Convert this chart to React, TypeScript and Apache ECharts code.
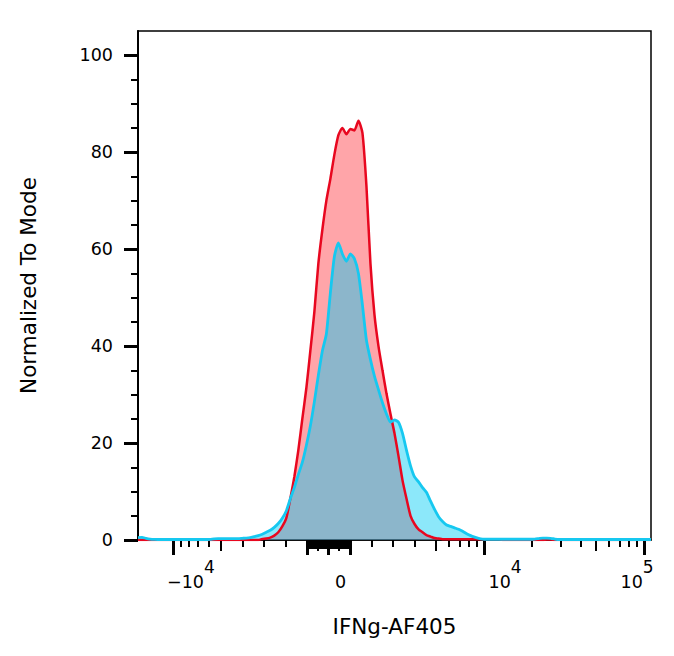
import React, { useEffect, useRef } from 'react';
import * as echarts from 'echarts';

// histogram bins: display channels 0..1024, one bin every 8 channels
const CHANNELS = Array.from({ length: 129 }, (_, i) => i * 8);

// red: control sample (Normalized To Mode)
const controlCounts = [
  0, 0, 0, 0, 0, 0, 0, 0, 0, 0, // 0-9
  0, 0, 0, 0, 0, 0, 0, 0, 0, 0, // 10-19
  0, 0, 0, 0, 0, 0, 0, 0, 0, 0, // 20-29
  0, 0.2, 0.3, 0.5, 0.9, 1.6, 2.8, 4.5, 8.5, 13, // 30-39
  18.5, 25, 31.3, 39, 47, 57, 64, 70, 74.5, 79.5, // 40-49
  83.5, 85, 83.7, 84.8, 84.5, 86.5, 84, 73, 57, 46.5, // 50-59
  40, 35, 30.2, 26, 22, 17.3, 12.3, 8.5, 5, 3.3, // 60-69
  2.2, 1.6, 1.0, 0.7, 0.4, 0.3, 0.15, 0.15, 0.15, 0.15, // 70-79
  0.15, 0.15, 0.15, 0.15, 0.15, 0.15, 0.15, 0.15, 0.15, 0.15, // 80-89
  0.15, 0, 0, 0, 0, 0, 0, 0, 0, 0, // 90-99
  0, 0, 0.1, 0.1, 0, 0, 0, 0, 0, 0, // 100-109
  0, 0, 0, 0, 0, 0, 0, 0, 0, 0, // 110-119
  0, 0, 0, 0, 0, 0, 0, 0, 0, // 120-128
];

// blue: stained sample (Normalized To Mode)
const stainedCounts = [
  0.5, 0.55, 0.35, 0.2, 0.12, 0.1, 0.1, 0.1, 0.1, 0.1, // 0-9
  0.1, 0.1, 0.1, 0.1, 0.1, 0.1, 0.1, 0.1, 0.15, 0.25, // 10-19
  0.3, 0.3, 0.3, 0.3, 0.3, 0.3, 0.35, 0.4, 0.5, 0.7, // 20-29
  0.9, 1.2, 1.6, 2.0, 2.6, 3.4, 4.5, 6, 8.5, 10.8, // 30-39
  13.5, 16, 19.5, 23.5, 28.5, 34, 39, 42.5, 51, 58.5, // 40-49
  61.3, 59, 57.5, 59, 58, 55, 48.5, 41.2, 37.2, 33.8, // 50-59
  31, 28.3, 26, 24.3, 24.8, 24.3, 22, 18.5, 15.3, 13, // 60-69
  12, 10.8, 9.8, 8, 6.3, 4.8, 3.8, 3.1, 2.8, 2.5, // 70-79
  2.2, 1.8, 1.3, 0.9, 0.6, 0.35, 0.2, 0.15, 0.15, 0.15, // 80-89
  0.15, 0.15, 0.15, 0.15, 0.15, 0.15, 0.15, 0.15, 0.15, 0.2, // 90-99
  0.3, 0.4, 0.4, 0.35, 0.2, 0.1, 0.1, 0.1, 0.1, 0.1, // 100-109
  0.1, 0.1, 0.1, 0.1, 0.1, 0.1, 0.1, 0.1, 0.1, 0.1, // 110-119
  0.1, 0.1, 0.1, 0.1, 0.1, 0.1, 0.1, 0.1, 0.1, // 120-128
];

// biexponential axis: ticks in fluorescence units
const labelTicks = [-1e4, 0, 1e4, 1e5];
const majorTicks = [-1e4, -1000, 0, 1000, 1e4, 1e5];
const mediumTicks = [-5000, -500, 500, 5000, 5e4];
const minorTicks = [
  -9000, -8000, -7000, -6000, -4000, -3000, -2000,
  2000, 3000, 4000, 6000, 7000, 8000, 9000,
  2e4, 3e4, 4e4, 6e4, 7e4, 8e4, 9e4,
];
// the linear region around zero: ticks close enough to merge into a block
const nearZeroTicks = [
  -900, -800, -700, -600, -400, -300, -200, -100,
  100, 200, 300, 400, 600, 700, 800, 900,
];

const yLabels = [0, 20, 40, 60, 80, 100];
const yMinor = [5, 10, 15, 25, 30, 35, 45, 50, 55, 65, 70, 75, 85, 90, 95];

// display scale: linear up to LIN, then log decades
const LIN = 5000;
const DECADE = 1.49;
const U_MIN = -1.774;
const U_MAX = 3.003;
const N_CH = 1024;

const toChannel = (v: number) => {
  const a = Math.abs(v);
  const u = a <= LIN ? a / LIN : 1 + DECADE * Math.log10(a / LIN);
  return ((Math.sign(v) * u - U_MIN) / (U_MAX - U_MIN)) * N_CH;
};

const FONT = 'DejaVu Sans';

const labelText = (v: number) => {
  if (v === 0) return '{g24|}{b|0}';
  const exp = Math.round(Math.log10(Math.abs(v)));
  if (v < 0) return `{g36|}{b|−10}{s|${exp}}`;
  if (exp === 5) return `{b|10}{s|${exp}}{g14|}`;
  return `{g42|}{b|10}{s|${exp}}`;
};

export default function App() {
  const ref = useRef<HTMLDivElement>(null);

  useEffect(() => {
    document.body.style.margin = '0';
    if (!ref.current) return;
    const chart = echarts.init(ref.current, undefined, { renderer: 'svg' });

    const labelCh = labelTicks.map(toChannel);
    const tickAxis = (values: number[], length: number, width: number) => ({
      type: 'value' as const,
      position: 'bottom' as const,
      min: 0,
      max: N_CH,
      axisLine: { show: false },
      splitLine: { show: false },
      axisLabel: { show: false },
      axisTick: {
        show: true,
        customValues: values.map(toChannel),
        length,
        lineStyle: { color: '#000', width },
      },
    });

    chart.setOption({
      animation: false,
      grid: {
        left: 138,
        top: 31,
        width: 513,
        height: 509,
        show: true,
        borderColor: '#000',
        borderWidth: 1.5,
        backgroundColor: 'transparent',
      },
      xAxis: [
        {
          type: 'value',
          position: 'bottom',
          min: 0,
          max: N_CH,
          name: 'IFNg-AF405',
          nameLocation: 'middle',
          nameGap: 75,
          nameTextStyle: { fontFamily: FONT, fontSize: 21.5, color: '#000' },
          axisLine: { show: true, lineStyle: { color: '#000', width: 1.5 } },
          splitLine: { show: false },
          axisTick: {
            show: true,
            customValues: majorTicks.map(toChannel),
            length: 15,
            lineStyle: { color: '#000', width: 3 },
          },
          axisLabel: {
            show: true,
            customValues: labelCh,
            margin: 18,
            formatter: (val: number) => {
              const i = labelCh.findIndex((c) => Math.abs(c - val) < 0.01);
              return i < 0 ? '' : labelText(labelTicks[i]);
            },
            rich: {
              b: { fontFamily: FONT, fontSize: 17.5, color: '#000', lineHeight: 33, verticalAlign: 'bottom' },
              s: { fontFamily: FONT, fontSize: 17, color: '#000', lineHeight: 33, verticalAlign: 'top' },
              g24: { width: 24, height: 1 },
              g36: { width: 36, height: 1 },
              g42: { width: 42, height: 1 },
              g14: { width: 14, height: 1 },
            },
          },
        },
        tickAxis(mediumTicks, 11, 2),
        tickAxis(minorTicks, 7, 2),
        tickAxis(nearZeroTicks, 9, 3),
      ],
      yAxis: [
        {
          type: 'value',
          position: 'left',
          min: 0,
          max: 105,
          name: 'Normalized To Mode',
          nameLocation: 'middle',
          nameGap: 99,
          nameTextStyle: { fontFamily: FONT, fontSize: 21.5, color: '#000' },
          axisLine: { show: true, lineStyle: { color: '#000', width: 2 } },
          splitLine: { show: false },
          axisTick: {
            show: true,
            customValues: yLabels,
            length: 14,
            lineStyle: { color: '#000', width: 3 },
          },
          axisLabel: {
            show: true,
            customValues: yLabels,
            margin: 25,
            fontFamily: FONT,
            fontSize: 17.5,
            color: '#000',
          },
        },
        {
          type: 'value',
          position: 'left',
          min: 0,
          max: 105,
          axisLine: { show: false },
          splitLine: { show: false },
          axisLabel: { show: false },
          axisTick: {
            show: true,
            customValues: yMinor,
            length: 7,
            lineStyle: { color: '#000', width: 2 },
          },
        },
      ],
      series: [
        {
          name: 'Control',
          type: 'line',
          data: CHANNELS.map((c, i) => [c, controlCounts[i]]),
          symbol: 'none',
          smooth: 0.2,
          lineStyle: { color: '#e8071f', width: 2.5 },
          areaStyle: { color: '#ff1e28', opacity: 0.4 },
        },
        {
          name: 'IFNg',
          type: 'line',
          data: CHANNELS.map((c, i) => [c, stainedCounts[i]]),
          symbol: 'none',
          smooth: 0.2,
          lineStyle: { color: '#16c8f0', width: 2.8 },
          areaStyle: { color: '#00cdf5', opacity: 0.45 },
        },
      ],
    });

    return () => chart.dispose();
  }, []);

  return <div ref={ref} style={{ width: 674, height: 656 }} />;
}
